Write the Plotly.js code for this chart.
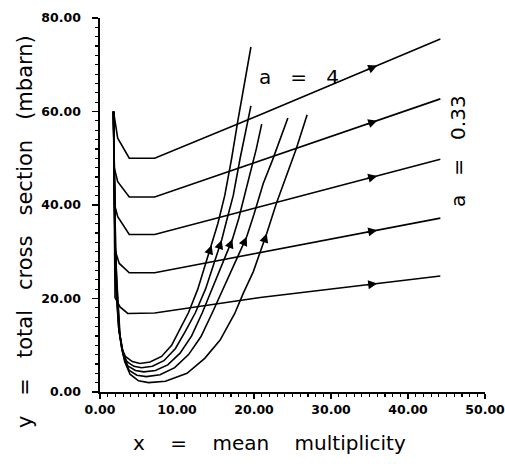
<!DOCTYPE html>
<html>
<head>
<meta charset="utf-8">
<script src="https://cdn.plot.ly/plotly-3.0.1.min.js"></script>
<style>html,body{margin:0;padding:0;background:#fff;}#chart{width:505px;height:464px;}</style>
</head>
<body>
<div id="chart"></div>
<script>
// ---- Data ----
// "horizontal" family (five curves, each with an arrow near x = 36)
const h1X = [1.75, 2.3, 3.8, 7.1, 20.8, 44.2];
const h1Y = [60, 54.3, 50, 50, 59.3, 75.5];
const h2X = [1.75, 1.85, 2.3, 3.8, 7.1, 20.8, 44.2];
const h2Y = [60, 48, 45, 41.7, 41.7, 49.4, 62.7];
const h3X = [1.75, 1.9, 2.3, 3.8, 7.1, 20.8, 44.2];
const h3Y = [60, 40, 37.5, 33.7, 33.7, 39.6, 49.8];
const h4X = [1.75, 1.95, 2.5, 3.8, 7.1, 20.8, 44.2];
const h4Y = [60, 30.4, 27.5, 25.5, 25.5, 29.8, 37.2];
const h5X = [1.75, 1.95, 2.6, 3.6, 7.1, 20.8, 44.2];
const h5Y = [60, 20.2, 18.2, 16.8, 16.9, 20.2, 24.8];
const hArrowX = [36, 36, 36, 36, 36];

// "U" family (five nested curves, arrows pointing up on right branch)
const uAX = [1.75, 1.85, 1.95, 2.1, 2.4, 2.8, 3.3, 4.2, 5.2, 6.5, 8.0, 9.3, 10.4, 11.5, 12.7, 13.9, 14.5, 15.3, 16.2, 17.1, 17.9, 19.6];
const uAY = [60, 45, 32, 22, 14, 9.5, 7.6, 6.5, 6.1, 6.4, 7.6, 10, 13.5, 17, 22, 28.5, 31.4, 36, 42, 50, 58, 73.8];
const uBX = [1.75, 1.85, 1.95, 2.1, 2.45, 2.9, 3.5, 4.4, 5.4, 6.8, 8.3, 9.8, 11.1, 12.4, 13.7, 15.0, 15.8, 16.5, 17.3, 18.2, 19.2, 19.6];
const uBY = [60, 45, 32, 22, 13.5, 8.6, 6.5, 5.5, 5.2, 5.5, 6.7, 9.3, 13, 17, 22, 28.5, 32.5, 37, 42, 50, 58.5, 61.2];
const uCX = [1.75, 1.85, 1.95, 2.15, 2.5, 3.0, 3.6, 4.6, 5.7, 7.2, 8.8, 10.4, 11.9, 13.3, 14.8, 16.3, 17.2, 18.0, 18.8, 19.7, 20.3, 21.0];
const uCY = [60, 45, 32, 22, 13, 8, 5.6, 4.6, 4.3, 4.6, 5.8, 8.3, 12, 17, 23, 28.9, 32.7, 37, 42, 48.2, 52, 57.3];
const uDX = [1.75, 1.85, 1.95, 2.2, 2.55, 3.1, 3.8, 4.8, 6.0, 7.8, 9.7, 11.5, 13.1, 14.6, 16.2, 17.9, 19.05, 20.0, 21.2, 22.4, 24.4];
const uDY = [60, 45, 32, 22, 12.5, 7.3, 4.6, 3.6, 3.3, 3.7, 5.2, 8, 11.8, 17, 23, 29, 33.2, 38, 44.6, 49.6, 58.6];
const uEX = [1.75, 1.85, 1.95, 2.25, 2.6, 3.2, 3.9, 5.0, 6.3, 8.5, 11.3, 13.6, 15.6, 17.5, 18.6, 19.9, 20.8, 21.65, 22.9, 23.8, 25.5, 26.9];
const uEY = [60, 45, 32, 22, 12, 6.5, 3.8, 2.4, 2.0, 2.3, 4.0, 7.2, 11.1, 16.8, 21.1, 25.7, 29.7, 33.9, 40.3, 44.3, 52.1, 59.3];
const uArrowY = [31.4, 32.5, 32.7, 33.2, 33.9];

const xTickVals = [0, 10, 20, 30, 40, 50];
const yTickVals = [0, 20, 40, 60, 80];

const sp3 = "\u00a0\u00a0\u00a0";
const sp4 = "\u00a0\u00a0\u00a0\u00a0";
const xTitle = ["x", "=", "mean", "multiplicity"].join(sp4);
const yTitle = ["y", "=", "total", "cross", "section", "(mbarn)"].join(sp3);
const labelTop = ["a", "=", "4"].join(sp3);
const labelSide = ["a", "=", "0.33"].join(sp3);

// ---- helpers ----
function interpYatX(xs, ys, x) {
  for (let i = 0; i < xs.length - 1; i++) {
    if (x >= xs[i] && x <= xs[i + 1]) {
      const t = (x - xs[i]) / (xs[i + 1] - xs[i]);
      return ys[i] + t * (ys[i + 1] - ys[i]);
    }
  }
  return ys[ys.length - 1];
}
function interpXatYRight(xs, ys, y) {
  let m = 0;
  for (let i = 1; i < ys.length; i++) if (ys[i] < ys[m]) m = i;
  for (let i = m; i < xs.length - 1; i++) {
    if (y >= ys[i] && y <= ys[i + 1]) {
      const t = (y - ys[i]) / (ys[i + 1] - ys[i]);
      return xs[i] + t * (xs[i + 1] - xs[i]);
    }
  }
  return xs[xs.length - 1];
}

const hSeries = [[h1X, h1Y], [h2X, h2Y], [h3X, h3Y], [h4X, h4Y], [h5X, h5Y]];
const uSeries = [[uAX, uAY], [uBX, uBY], [uCX, uCY], [uDX, uDY], [uEX, uEY]];

const lineStyle = {color: '#000', width: 1.6};
const traces = [];
hSeries.forEach(s => traces.push({x: s[0], y: s[1], mode: 'lines', line: lineStyle, hoverinfo: 'skip'}));
uSeries.forEach(s => traces.push({x: s[0], y: s[1], mode: 'lines', line: lineStyle, hoverinfo: 'skip'}));

const annotations = [];
function arrow(xt, yt, xa, ya) {
  annotations.push({x: xt, y: yt, ax: xa, ay: ya, xref: 'x', yref: 'y', axref: 'x', ayref: 'y',
    text: '', showarrow: true, arrowhead: 2, arrowsize: 1.2, arrowwidth: 1.5, arrowcolor: '#000'});
}
hSeries.forEach((s, i) => {
  const xt = hArrowX[i];
  arrow(xt, interpYatX(s[0], s[1], xt), xt - 1.5, interpYatX(s[0], s[1], xt - 1.5));
});
uSeries.forEach((s, i) => {
  const yt = uArrowY[i];
  arrow(interpXatYRight(s[0], s[1], yt), yt, interpXatYRight(s[0], s[1], yt - 1.5), yt - 1.5);
});

const textFont = {family: 'DejaVu Sans', size: 20, color: '#000'};
const yTitleFont = {family: 'DejaVu Sans', size: 21, color: '#000'};
annotations.push({xref: 'paper', yref: 'paper', x: 0.439, y: -0.136, text: xTitle, showarrow: false,
  font: textFont, xanchor: 'center', yanchor: 'middle'});
annotations.push({xref: 'paper', yref: 'paper', x: -0.195, y: 0.43, text: yTitle, showarrow: false,
  font: yTitleFont, textangle: -90, xanchor: 'center', yanchor: 'middle'});
annotations.push({xref: 'x', yref: 'y', x: 25.8, y: 67.4, text: labelTop, showarrow: false,
  font: textFont, xanchor: 'center', yanchor: 'middle'});
annotations.push({xref: 'x', yref: 'y', x: 46.4, y: 51.6, text: labelSide, showarrow: false,
  font: textFont, textangle: -90, xanchor: 'center', yanchor: 'middle'});

const tickFont = {family: 'DejaVu Sans', size: 12.5, color: '#000', weight: 'bold'};
const layout = {
  width: 505, height: 464,
  margin: {l: 100, r: 20, t: 18, b: 72},
  paper_bgcolor: '#fff', plot_bgcolor: '#fff',
  showlegend: false,
  xaxis: {
    range: [0, 50], tickvals: xTickVals, tickformat: '.2f', showgrid: false, zeroline: false,
    showline: true, linecolor: '#000', linewidth: 1.6,
    ticks: 'outside', ticklen: 5, tickwidth: 1.5, tickcolor: '#000',
    minor: {dtick: 1, ticks: 'outside', ticklen: 3, tickwidth: 1.2, tickcolor: '#000', showgrid: false},
    tickfont: tickFont, ticklabeloverflow: 'allow', fixedrange: true
  },
  yaxis: {
    range: [0, 80], tickvals: yTickVals, tickformat: '.2f', showgrid: false, zeroline: false,
    showline: true, linecolor: '#000', linewidth: 1.6,
    ticks: 'outside', ticklen: 6, tickwidth: 1.5, tickcolor: '#000',
    minor: {dtick: 2, ticks: 'outside', ticklen: 3, tickwidth: 1.2, tickcolor: '#000', showgrid: false},
    tickfont: tickFont, ticklabelstandoff: 9, ticklabeloverflow: 'allow', fixedrange: true
  },
  annotations: annotations
};

Plotly.newPlot('chart', traces, layout, {staticPlot: true, displayModeBar: false});
</script>
</body>
</html>
